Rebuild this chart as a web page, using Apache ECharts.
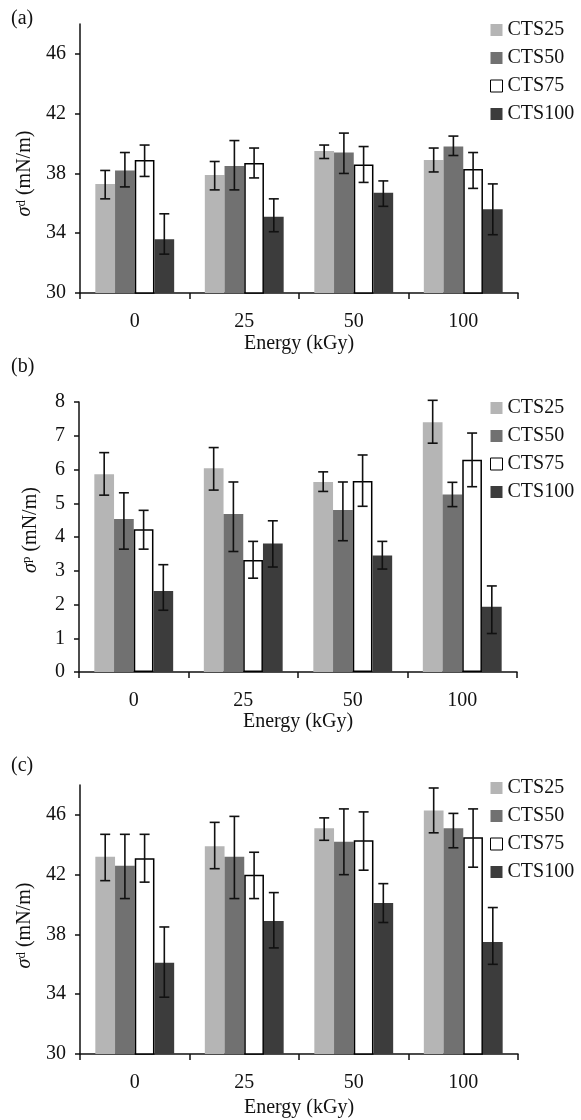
<!DOCTYPE html>
<html>
<head>
<meta charset="UTF-8">
<title>Surface tension components</title>
<style>
  html, body { margin: 0; padding: 0; background: #fff; }
  #main { width: 581px; height: 1120px; }
</style>
</head>
<body>
<div id="main"></div>
<script src="https://cdn.jsdelivr.net/npm/echarts@6/dist/echarts.min.js"></script>
<script type="text/javascript">
  // categories and series
  const categories = ['0', '25', '50', '100'];
  const seriesNames = ['CTS25', 'CTS50', 'CTS75', 'CTS100'];
  const colors = ['#b5b5b5', '#717171', '#ffffff', '#3c3c3c'];

  // panel (a): dispersive component, mean / lower / upper of error bar (per series, per category)
  const aMean = [[37.3, 37.9, 39.5, 38.9], [38.2, 38.5, 39.4, 39.8], [38.9, 38.7, 38.6, 38.3], [33.6, 35.1, 36.7, 35.6]];
  const aLow  = [[36.3, 36.9, 39.0, 38.1], [37.1, 36.9, 38.0, 39.2], [37.8, 37.7, 37.4, 37.0], [32.6, 34.1, 35.8, 33.9]];
  const aHigh = [[38.2, 38.8, 39.9, 39.7], [39.4, 40.2, 40.7, 40.5], [39.9, 39.7, 39.8, 39.4], [35.3, 36.3, 37.5, 37.3]];

  // panel (b): polar component
  const bMean = [[5.86, 6.04, 5.63, 7.40], [4.53, 4.68, 4.80, 5.26], [4.23, 3.32, 5.66, 6.29], [2.40, 3.81, 3.45, 1.93]];
  const bLow  = [[5.24, 5.39, 5.35, 6.78], [3.64, 3.57, 3.89, 4.90], [3.64, 2.78, 4.91, 5.49], [1.83, 3.11, 3.05, 1.14]];
  const bHigh = [[6.50, 6.65, 5.93, 8.05], [5.31, 5.63, 5.63, 5.62], [4.79, 3.87, 6.43, 7.08], [3.18, 4.48, 3.87, 2.55]];

  // panel (c)
  const cMean = [[43.2, 43.9, 45.1, 46.3], [42.6, 43.2, 44.2, 45.1], [43.1, 42.0, 44.3, 44.5], [36.1, 38.9, 40.1, 37.5]];
  const cLow  = [[41.6, 42.4, 44.3, 44.8], [40.4, 40.4, 42.0, 43.8], [41.5, 40.4, 42.3, 42.5], [33.8, 37.1, 38.8, 36.0]];
  const cHigh = [[44.7, 45.5, 45.8, 47.8], [44.7, 45.9, 46.4, 46.1], [44.7, 43.5, 46.2, 46.4], [38.5, 40.8, 41.4, 39.8]];

  // y axis ranges
  const yMin = [30, 0, 30];
  const yMax = [48, 8, 48];
  const yStep = [4, 1, 4];

  const panelLabels = ['(a)', '(b)', '(c)'];
  const yNames = [
    '{i|σ}{sup|d} (mN/m)',
    '{i|σ}{sup|p} (mN/m)',
    '{i|σ}{sup|d} (mN/m)'
  ];

  const font = 'Liberation Serif';
  const gapPct = 0.28;

  let myChart = echarts.init(document.getElementById('main'));

  const grids = [
    { left: 80, top: 24, width: 438, height: 269 },
    { left: 79, top: 402, width: 438, height: 270 },
    { left: 80, top: 785, width: 438, height: 269 }
  ];
  const legendTops = [15, 393, 773];
  const titleTops = [4, 352, 751];
  const namePad = [[0, 30, 0, 0], [0, 0, 0, 14], [0, 12, 0, 0]];
  const xNameGap = [41, 40, 44];

  const panels = [
    [aMean, aLow, aHigh],
    [bMean, bLow, bHigh],
    [cMean, cLow, cHigh]
  ];

  let xAxes = [], yAxes = [], series = [], legends = [], titles = [];

  for (let p = 0; p < 3; p++) {
    titles.push({
      text: panelLabels[p], left: 6, top: titleTops[p],
      textStyle: { fontFamily: font, fontSize: 20, fontWeight: 'normal', color: '#111' }
    });
    xAxes.push({
      type: 'category', gridIndex: p, data: categories,
      name: 'Energy (kGy)', nameLocation: 'middle', nameGap: xNameGap[p],
      nameTextStyle: { fontFamily: font, fontSize: 20, color: '#111' },
      axisLine: { lineStyle: { color: '#111', width: 1.5 } },
      axisTick: { show: true, length: 6, lineStyle: { color: '#111', width: 1.5 } },
      axisLabel: { fontFamily: font, fontSize: 20, color: '#111', margin: 19 },
      splitLine: { show: false }
    });
    yAxes.push({
      type: 'value', gridIndex: p, min: yMin[p], max: yMax[p], interval: yStep[p],
      name: yNames[p], nameLocation: 'middle', nameGap: 38, nameRotate: 90,
      nameTextStyle: {
        fontFamily: font, fontSize: 20, color: '#111', padding: namePad[p],
        rich: {
          i: { fontFamily: font, fontSize: 20, fontStyle: 'italic', color: '#111' },
          sup: { fontFamily: font, fontSize: 13, color: '#111', verticalAlign: 'top', padding: [0, 0, 8, 0] }
        }
      },
      axisLine: { show: true, lineStyle: { color: '#111', width: 1.5 } },
      axisTick: { show: true, length: 5, lineStyle: { color: '#111', width: 1.5 } },
      axisLabel: { fontFamily: font, fontSize: 20, color: '#111', margin: 14, showMaxLabel: p === 1 },
      splitLine: { show: false }
    });
    legends.push({
      data: seriesNames, orient: 'vertical', left: 485, top: legendTops[p],
      itemWidth: 12, itemHeight: 12, itemGap: 8, icon: 'rect',
      itemStyle: { borderWidth: 1 },
      textStyle: { fontFamily: font, fontSize: 20, color: '#111' },
      selectedMode: false
    });

    const [mean, low, high] = panels[p];
    for (let s = 0; s < 4; s++) {
      series.push({
        name: seriesNames[s], type: 'bar',
        xAxisIndex: p, yAxisIndex: p,
        barGap: '0%', barCategoryGap: (gapPct * 100) + '%',
        data: mean[s],
        itemStyle: s === 2
          ? { color: '#ffffff', borderColor: '#000', borderWidth: 1.5 }
          : { color: colors[s] },
        animation: false
      });
    }
    // error bars
    for (let s = 0; s < 4; s++) {
      const errData = categories.map((c, i) => [i, low[s][i], high[s][i]]);
      series.push({
        name: 'err' + p + s, type: 'custom',
        xAxisIndex: p, yAxisIndex: p, z: 10,
        data: errData,
        renderItem: function (params, api) {
          const band = api.size([1, 0])[0];
          const barW = band * (1 - gapPct) / 4;
          const off = (s - 1.5) * barW;
          const top = api.coord([api.value(0), api.value(2)]);
          const bot = api.coord([api.value(0), api.value(1)]);
          const x = top[0] + off;
          const cap = 5;
          const st = { stroke: '#111', lineWidth: 1.6 };
          return {
            type: 'group',
            children: [
              { type: 'line', shape: { x1: x, y1: top[1], x2: x, y2: bot[1] }, style: st },
              { type: 'line', shape: { x1: x - cap, y1: top[1], x2: x + cap, y2: top[1] }, style: st },
              { type: 'line', shape: { x1: x - cap, y1: bot[1], x2: x + cap, y2: bot[1] }, style: st }
            ]
          };
        },
        animation: false
      });
    }
  }

  myChart.setOption({
    backgroundColor: '#fff',
    animation: false,
    title: titles,
    legend: legends,
    grid: grids,
    xAxis: xAxes,
    yAxis: yAxes,
    series: series
  });
</script>
</body>
</html>
